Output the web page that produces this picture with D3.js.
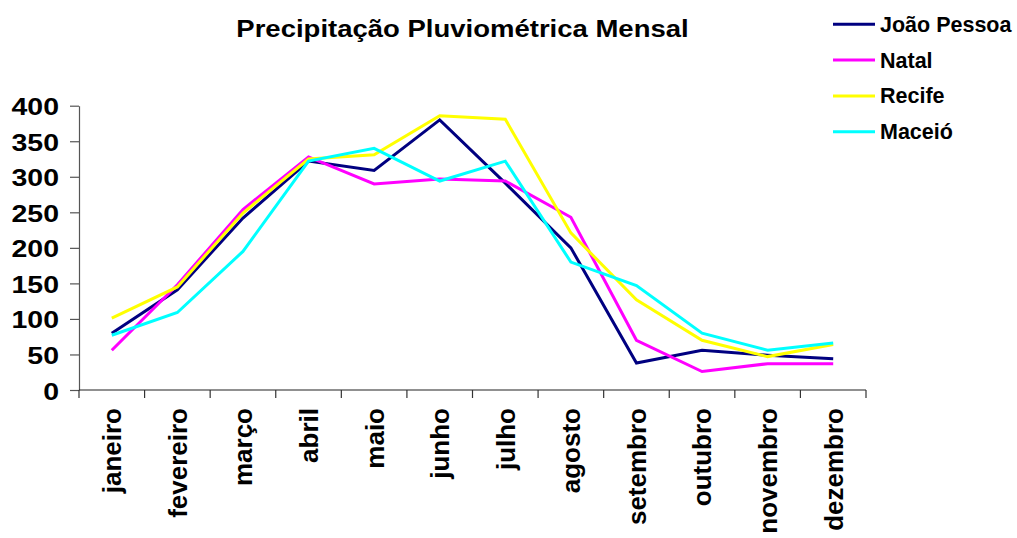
<!DOCTYPE html>
<html>
<head>
<meta charset="utf-8">
<script src="https://cdn.jsdelivr.net/npm/d3@7"></script>
<style>
  html, body { margin: 0; padding: 0; background: #fff; }
  svg { display: block; }
  text { font-family: "Liberation Sans", Arial, sans-serif; font-weight: bold; fill: #000; }
</style>
</head>
<body>
<svg id="chart" width="1017" height="538"></svg>
<script>
// Monthly rainfall (mm) for four north-eastern Brazilian capitals
const months = ["janeiro", "fevereiro", "março", "abril", "maio", "junho",
                "julho", "agosto", "setembro", "outubro", "novembro", "dezembro"];
const joaoPessoa = [80, 141, 242, 322, 309, 380, 291, 200, 38, 56, 49, 44];
const natal      = [56, 148, 254, 328, 290, 297, 294, 243, 70, 26, 37, 37];
const recife     = [101, 145, 249, 325, 331, 386, 381, 221, 127, 70, 47, 64];
const maceio     = [77, 109, 195, 322, 340, 294, 322, 180, 147, 80, 56, 66];
const seriesNames = ["João Pessoa", "Natal", "Recife", "Maceió"];
const seriesColors = ["#000080", "#ff00ff", "#ffff00", "#00ffff"];
const yTicks = [0, 50, 100, 150, 200, 250, 300, 350, 400];
const title = "Precipitação Pluviométrica Mensal";

const series = [joaoPessoa, natal, recife, maceio].map((values, i) => ({
  name: seriesNames[i], color: seriesColors[i], values
}));

const svg = d3.select("#chart");
const plot = { left: 79, right: 866, top: 105.7, bottom: 390 };

const x = d3.scaleBand().domain(months).range([plot.left, plot.right]).padding(0);
const y = d3.scaleLinear().domain([0, 400]).range([plot.bottom, plot.top]);
const cx = m => x(m) + x.bandwidth() / 2;

// Title
svg.append("text")
  .attr("transform", "translate(462.5,37) scale(1,0.9)")
  .attr("text-anchor", "middle")
  .style("font-size", "27.5px")
  .text(title);

// Y axis
const yAxis = svg.append("g").attr("transform", `translate(${plot.left},0)`)
  .call(d3.axisLeft(y).tickValues(yTicks).tickSize(9).tickSizeOuter(0).tickFormat(d3.format("d")));
yAxis.select(".domain").attr("stroke", "#555").attr("stroke-width", 1.2);
yAxis.selectAll(".tick line").attr("stroke", "#555").attr("stroke-width", 1.2);
yAxis.selectAll(".tick text")
  .attr("x", -20)
  .attr("dy", null)
  .attr("y", 0)
  .attr("transform", "translate(0,9) scale(1,0.83)")
  .style("font-size", "28.5px")
  .style("font-family", "\"Liberation Sans\", Arial, sans-serif")
  .style("font-weight", "bold")
  .attr("fill", "#000");

// X axis: ticks on category boundaries
const xAxisG = svg.append("g").attr("transform", `translate(0,${plot.bottom})`);
xAxisG.append("line")
  .attr("x1", plot.left).attr("x2", plot.right)
  .attr("stroke", "#222").attr("stroke-width", 1.2);
const boundaries = months.map(m => x(m)).concat([plot.right]);
xAxisG.selectAll("line.tick").data(boundaries).join("line")
  .attr("class", "tick")
  .attr("x1", d => d).attr("x2", d => d)
  .attr("y1", 0).attr("y2", 8)
  .attr("stroke", "#333").attr("stroke-width", 1.2);
xAxisG.selectAll("text.month").data(months).join("text")
  .attr("class", "month")
  .attr("transform", d => `translate(${cx(d)},18) rotate(-90)`)
  .attr("text-anchor", "end")
  .attr("dy", "0.36em")
  .style("font-size", "26px")
  .text(d => d);

// Lines
const line = d3.line()
  .x((d, i) => cx(months[i]))
  .y(d => y(d));
svg.append("g").selectAll("path").data(series).join("path")
  .attr("d", s => line(s.values))
  .attr("fill", "none")
  .attr("stroke", s => s.color)
  .attr("stroke-width", 3)
  .attr("stroke-linejoin", "miter");

// Legend
const legend = svg.append("g");
const legendY = d3.scalePoint().domain(seriesNames).range([24.3, 131.7]);
const item = legend.selectAll("g").data(series).join("g")
  .attr("transform", s => `translate(0,${legendY(s.name)})`);
item.append("line")
  .attr("x1", 833).attr("x2", 875)
  .attr("stroke", s => s.color).attr("stroke-width", 3);
item.append("text")
  .attr("x", 880)
  .attr("dy", "0.35em")
  .style("font-size", "21.5px")
  .text(s => s.name);
</script>
</body>
</html>
